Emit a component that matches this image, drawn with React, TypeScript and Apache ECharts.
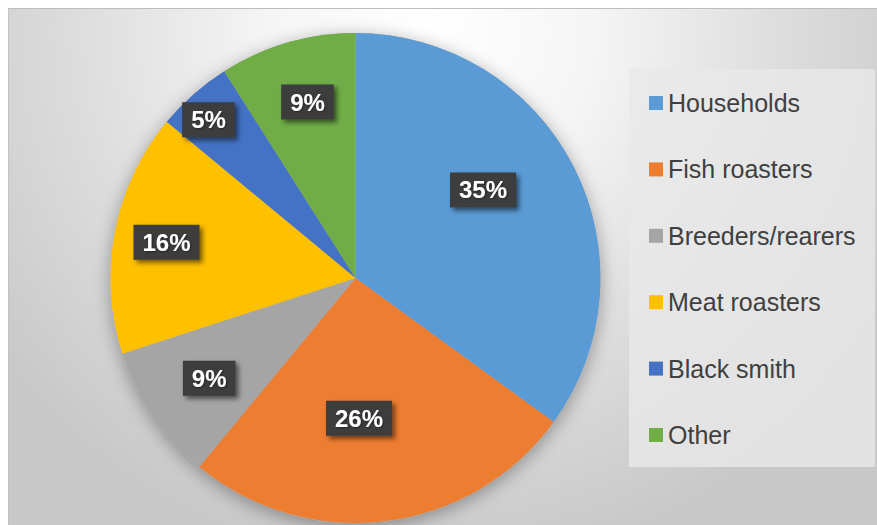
import React, { useEffect, useRef } from "react";
import * as echarts from "echarts";

const categories = [
  "Households",
  "Fish roasters",
  "Breeders/rearers",
  "Meat roasters",
  "Black smith",
  "Other",
];
const shares = [35, 26, 9, 16, 5, 9];
const sliceColors = ["#5B9BD5", "#ED7D31", "#A5A5A5", "#FFC000", "#4472C4", "#70AD47"];
// nudges of each data label from the default inside position (px)
const labelShift = [
  [15.7, -31.1],
  [-12.2, 15.8],
  [-42.5, 29.8],
  [-65.7, -12.3],
  [-64, -64.1],
  [-13, -55.4],
];

const FONT = "'Liberation Sans', Arial, sans-serif";

export default function App() {
  const ref = useRef<HTMLDivElement>(null);

  useEffect(() => {
    if (!ref.current) return;
    const chart = echarts.init(ref.current, undefined, { renderer: "svg" });
    const W = 869;
    const H = 517;
    const center = [347.5, 270];
    const radius = 245;

    chart.setOption({
      animation: false,
      backgroundColor: "transparent",
      graphic: [
        {
          type: "rect",
          z: -10,
          silent: true,
          shape: { x: 0, y: 0, width: W, height: H },
          style: {
            fill: {
              type: "radial",
              x: 422,
              y: 22,
              r: 540,
              global: true,
              colorStops: [
                { offset: 0, color: "#ffffff" },
                { offset: 0.3, color: "#f5f5f5" },
                { offset: 0.65, color: "#dddddd" },
                { offset: 1, color: "#c8c8c8" },
              ],
            },
          },
        },
        {
          type: "line",
          z: -9,
          silent: true,
          shape: { x1: 0, y1: 0.5, x2: W, y2: 0.5 },
          style: { stroke: "#bdbdbd", lineWidth: 1 },
        },
        {
          type: "line",
          z: -9,
          silent: true,
          shape: { x1: 0.5, y1: 0, x2: 0.5, y2: H },
          style: { stroke: "#c2c2c2", lineWidth: 1 },
        },
        {
          type: "rect",
          z: -8,
          silent: true,
          shape: { x: 621, y: 61, width: 246, height: 398 },
          style: { fill: "rgba(232,232,232,0.8)" },
        },
      ],
      legend: {
        data: categories,
        orient: "vertical",
        left: 641,
        top: 82.5,
        padding: 0,
        itemWidth: 14,
        itemHeight: 14,
        itemGap: 41.4,
        icon: "rect",
        selectedMode: false,
        textStyle: {
          fontSize: 25,
          lineHeight: 25,
          color: "#404040",
          fontFamily: FONT,
        },
      },
      series: [
        {
          type: "pie",
          name: "shadow",
          silent: true,
          z: 1,
          center,
          radius,
          label: { show: false },
          labelLine: { show: false },
          emphasis: { disabled: true },
          itemStyle: {
            color: "#b0b0b0",
            shadowBlur: 18,
            shadowColor: "rgba(0,0,0,0.35)",
            shadowOffsetY: 4,
          },
          data: [{ value: 1, name: "__bg" }],
        },
        {
          type: "pie",
          name: "share",
          z: 2,
          center,
          radius,
          startAngle: 90,
          clockwise: true,
          avoidLabelOverlap: false,
          emphasis: { disabled: true },
          itemStyle: { borderWidth: 0 },
          label: {
            show: true,
            position: "inside",
            formatter: "{c}%",
            color: "#ffffff",
            fontSize: 24,
            lineHeight: 24,
            fontWeight: "bold",
            fontFamily: FONT,
            backgroundColor: "#3d3d3d",
            padding: [6, 9, 5, 9],
            shadowColor: "rgba(0,0,0,0.55)",
            shadowBlur: 5,
            shadowOffsetX: 3,
            shadowOffsetY: 3,
            textShadowColor: "rgba(0,0,0,0.4)",
            textShadowBlur: 2,
            textShadowOffsetX: 1,
            textShadowOffsetY: 1,
          },
          labelLine: { show: false },
          labelLayout: (params: any) => {
            const s = labelShift[params.dataIndex] || [0, 0];
            return { dx: s[0], dy: s[1], align: "center", verticalAlign: "middle" };
          },
          data: categories.map((name, i) => ({
            name,
            value: shares[i],
            itemStyle: { color: sliceColors[i] },
          })),
        },
      ],
    });

    return () => chart.dispose();
  }, []);

  return (
    <div
      ref={ref}
      style={{ position: "absolute", left: 8, top: 8, width: 869, height: 517 }}
    />
  );
}
